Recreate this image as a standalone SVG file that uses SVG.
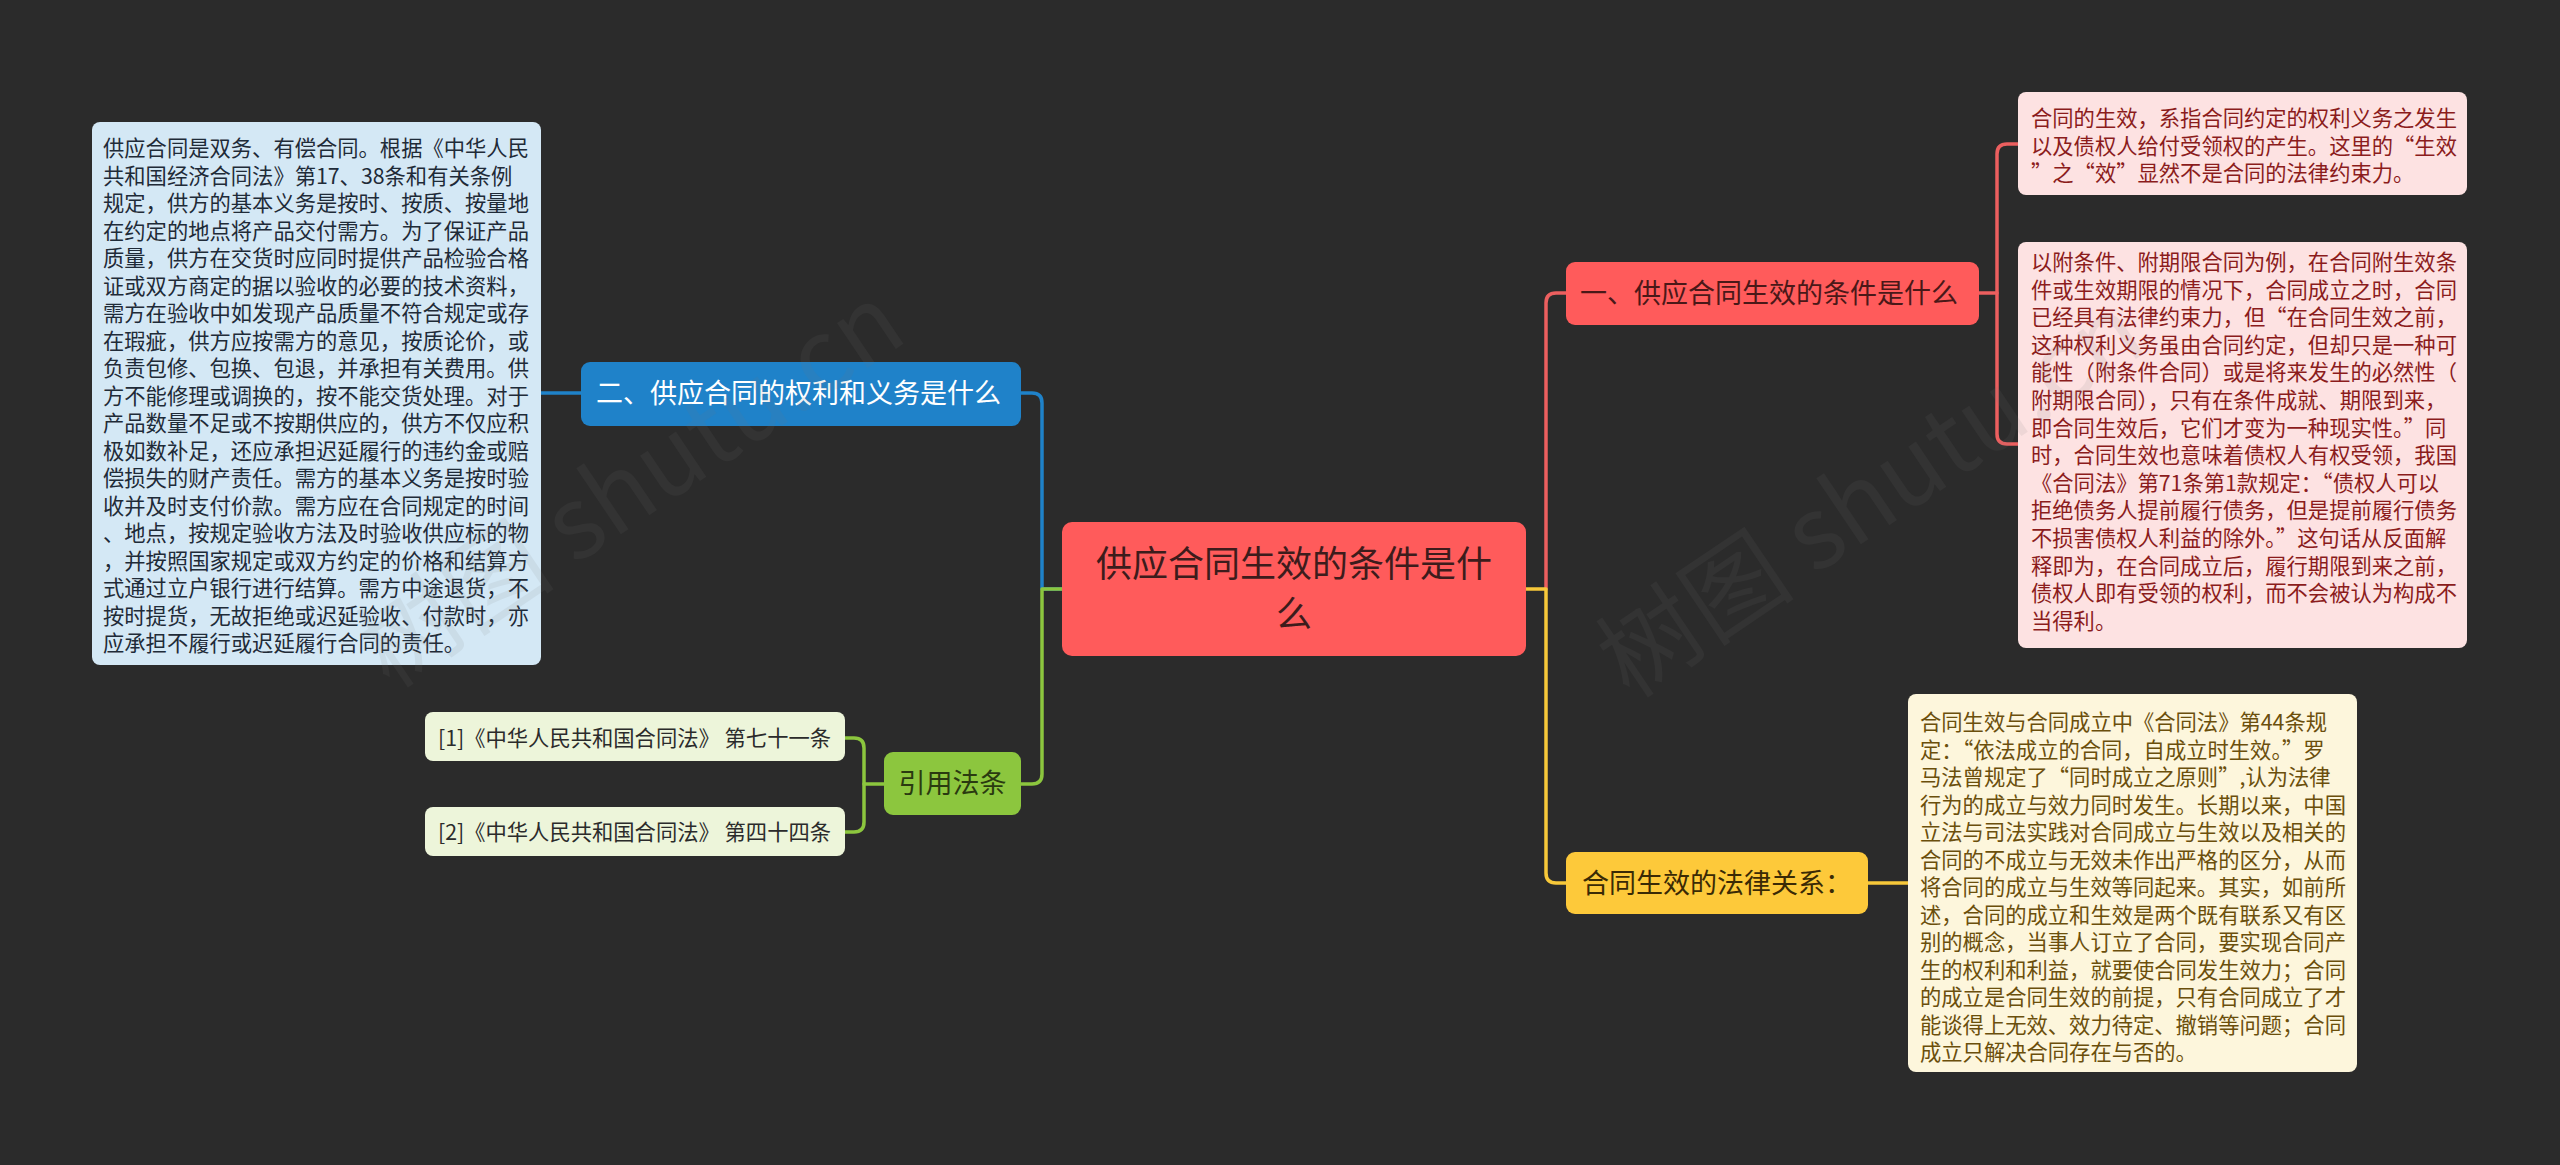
<svg xmlns="http://www.w3.org/2000/svg" width="2560" height="1165" viewBox="0 0 2560 1165">
<style>
text{font-family:"Noto Sans CJK SC","Noto Sans",sans-serif}
.body{font-size:21.3px}
.lb{fill:#1f2b38}
.pk{fill:#8b1c1c}
.yl{fill:#6b4f0c}
.ct{fill:#2b2b2b}
.br{font-size:27px}
.ln{fill:none;stroke-width:3.5;stroke-linecap:round;stroke-linejoin:round}
.wm{font-size:100px;fill:#777777;opacity:0.1;font-family:"Noto Sans CJK SC",sans-serif}
</style>
<rect x="0" y="0" width="2560" height="1165" fill="#2b2b2b"/>
<g id="connectors">
<path class="ln" stroke="#1f82c9" d="M1062,589 H1042 V403 Q1042,393 1032,393 H1021"/>
<path class="ln" stroke="#1f82c9" d="M581,393 H541"/>
<path class="ln" stroke="#8cc63e" d="M1062,589 H1042 V774 Q1042,784 1032,784 H1021"/>
<path class="ln" stroke="#8cc63e" d="M885,784 H864"/>
<path class="ln" stroke="#8cc63e" d="M845,738 H854 Q864,738 864,748 V822 Q864,832 854,832 H845"/>
<path class="ln" stroke="#ec5f5f" d="M1546,589 V303 Q1546,293 1556,293 H1566"/>
<path class="ln" stroke="#f7c83a" d="M1526,589 H1546 V873 Q1546,883 1556,883 H1566"/>
<path class="ln" stroke="#f7c83a" d="M1868,883 H1908"/>
<path class="ln" stroke="#ec5f5f" d="M1979,293 H1997"/>
<path class="ln" stroke="#ec5f5f" d="M2018,144 H2007 Q1997,144 1997,154 V434 Q1997,444 2007,444 H2018"/>
</g>
<g id="center">
<rect x="1062" y="522" width="464" height="134" rx="10" fill="#ff5b5b"/>
<text x="1294" y="577" text-anchor="middle" font-size="36" fill="#3d1c1c">供应合同生效的条件是什</text>
<text x="1294" y="627" text-anchor="middle" font-size="36" fill="#3d1c1c">么</text>
</g>
<g id="branch1">
<rect x="1566" y="262" width="413" height="63" rx="9" fill="#ff5b5b"/>
<text class="br" x="1580" y="303" fill="#4a1818">一、供应合同生效的条件是什么</text>
</g>
<g id="branch2">
<rect x="581" y="362" width="440" height="64" rx="9" fill="#1f82c9"/>
<text class="br" x="596" y="403" fill="#ffffff">二、供应合同的权利和义务是什么</text>
</g>
<g id="branch3">
<rect x="884" y="752" width="137" height="63" rx="9" fill="#8cc63e"/>
<text class="br" x="952.5" y="793" text-anchor="middle" fill="#2a3a10">引用法条</text>
</g>
<g id="branch4">
<rect x="1566" y="852" width="302" height="62" rx="9" fill="#fdc93a"/>
<text class="br" x="1582" y="893" fill="#3a2a05">合同生效的法律关系：</text>
</g>
<g id="left-detail">
<rect x="92" y="122" width="449" height="543" rx="8" fill="#d4e8f5"/>
<text class="body lb">
<tspan x="103" y="156">供应合同是双务、有偿合同。根据《中华人民</tspan>
<tspan x="103" dy="27.5">共和国经济合同法》第17、38条和有关条例</tspan>
<tspan x="103" dy="27.5">规定，供方的基本义务是按时、按质、按量地</tspan>
<tspan x="103" dy="27.5">在约定的地点将产品交付需方。为了保证产品</tspan>
<tspan x="103" dy="27.5">质量，供方在交货时应同时提供产品检验合格</tspan>
<tspan x="103" dy="27.5">证或双方商定的据以验收的必要的技术资料，</tspan>
<tspan x="103" dy="27.5">需方在验收中如发现产品质量不符合规定或存</tspan>
<tspan x="103" dy="27.5">在瑕疵，供方应按需方的意见，按质论价，或</tspan>
<tspan x="103" dy="27.5">负责包修、包换、包退，并承担有关费用。供</tspan>
<tspan x="103" dy="27.5">方不能修理或调换的，按不能交货处理。对于</tspan>
<tspan x="103" dy="27.5">产品数量不足或不按期供应的，供方不仅应积</tspan>
<tspan x="103" dy="27.5">极如数补足，还应承担迟延履行的违约金或赔</tspan>
<tspan x="103" dy="27.5">偿损失的财产责任。需方的基本义务是按时验</tspan>
<tspan x="103" dy="27.5">收并及时支付价款。需方应在合同规定的时间</tspan>
<tspan x="103" dy="27.5">、地点，按规定验收方法及时验收供应标的物</tspan>
<tspan x="103" dy="27.5">，并按照国家规定或双方约定的价格和结算方</tspan>
<tspan x="103" dy="27.5">式通过立户银行进行结算。需方中途退货，不</tspan>
<tspan x="103" dy="27.5">按时提货，无故拒绝或迟延验收、付款时，亦</tspan>
<tspan x="103" dy="27.5">应承担不履行或迟延履行合同的责任。</tspan>
</text>
</g>
<g id="cite1">
<rect x="425" y="712" width="420" height="49" rx="8" fill="#edf5da"/>
<text class="body ct" x="438" y="746">[1]《中华人民共和国合同法》 第七十一条</text>
</g>
<g id="cite2">
<rect x="425" y="807" width="420" height="49" rx="8" fill="#edf5da"/>
<text class="body ct" x="438" y="840">[2]《中华人民共和国合同法》 第四十四条</text>
</g>
<g id="right-detail1">
<rect x="2018" y="92" width="449" height="103" rx="8" fill="#fde2e2"/>
<text class="body pk">
<tspan x="2031" y="126">合同的生效，系指合同约定的权利义务之发生</tspan>
<tspan x="2031" dy="27.5">以及债权人给付受领权的产生。这里的“生效</tspan>
<tspan x="2031" dy="27.5">”之“效”显然不是合同的法律约束力。</tspan>
</text>
</g>
<g id="right-detail2">
<rect x="2018" y="242" width="449" height="406" rx="8" fill="#fde2e2"/>
<text class="body pk">
<tspan x="2031" y="270">以附条件、附期限合同为例，在合同附生效条</tspan>
<tspan x="2031" dy="27.6">件或生效期限的情况下，合同成立之时，合同</tspan>
<tspan x="2031" dy="27.6">已经具有法律约束力，但“在合同生效之前，</tspan>
<tspan x="2031" dy="27.6">这种权利义务虽由合同约定，但却只是一种可</tspan>
<tspan x="2031" dy="27.6">能性（附条件合同）或是将来发生的必然性（</tspan>
<tspan x="2031" dy="27.6">附期限合同），只有在条件成就、期限到来，</tspan>
<tspan x="2031" dy="27.6">即合同生效后，它们才变为一种现实性。”同</tspan>
<tspan x="2031" dy="27.6">时，合同生效也意味着债权人有权受领，我国</tspan>
<tspan x="2031" dy="27.6">《合同法》第71条第1款规定：“债权人可以</tspan>
<tspan x="2031" dy="27.6">拒绝债务人提前履行债务，但是提前履行债务</tspan>
<tspan x="2031" dy="27.6">不损害债权人利益的除外。”这句话从反面解</tspan>
<tspan x="2031" dy="27.6">释即为，在合同成立后，履行期限到来之前，</tspan>
<tspan x="2031" dy="27.6">债权人即有受领的权利，而不会被认为构成不</tspan>
<tspan x="2031" dy="27.6">当得利。</tspan>
</text>
</g>
<g id="right-detail3">
<rect x="1908" y="694" width="449" height="378" rx="8" fill="#fdf6dc"/>
<text class="body yl">
<tspan x="1920" y="730">合同生效与合同成立中《合同法》第44条规</tspan>
<tspan x="1920" dy="27.5">定：“依法成立的合同，自成立时生效。”罗</tspan>
<tspan x="1920" dy="27.5">马法曾规定了“同时成立之原则”,认为法律</tspan>
<tspan x="1920" dy="27.5">行为的成立与效力同时发生。长期以来，中国</tspan>
<tspan x="1920" dy="27.5">立法与司法实践对合同成立与生效以及相关的</tspan>
<tspan x="1920" dy="27.5">合同的不成立与无效未作出严格的区分，从而</tspan>
<tspan x="1920" dy="27.5">将合同的成立与生效等同起来。其实，如前所</tspan>
<tspan x="1920" dy="27.5">述，合同的成立和生效是两个既有联系又有区</tspan>
<tspan x="1920" dy="27.5">别的概念，当事人订立了合同，要实现合同产</tspan>
<tspan x="1920" dy="27.5">生的权利和利益，就要使合同发生效力；合同</tspan>
<tspan x="1920" dy="27.5">的成立是合同生效的前提，只有合同成立了才</tspan>
<tspan x="1920" dy="27.5">能谈得上无效、效力待定、撤销等问题；合同</tspan>
<tspan x="1920" dy="27.5">成立只解决合同存在与否的。</tspan>
</text>
</g>
<g id="watermark">
<text class="wm" x="0" y="0" transform="translate(390,690) rotate(-34)">树图 shutu.cn</text>
<text class="wm" x="0" y="0" transform="translate(1630,700) rotate(-34)">树图 shutu.cn</text>
</g>
</svg>
